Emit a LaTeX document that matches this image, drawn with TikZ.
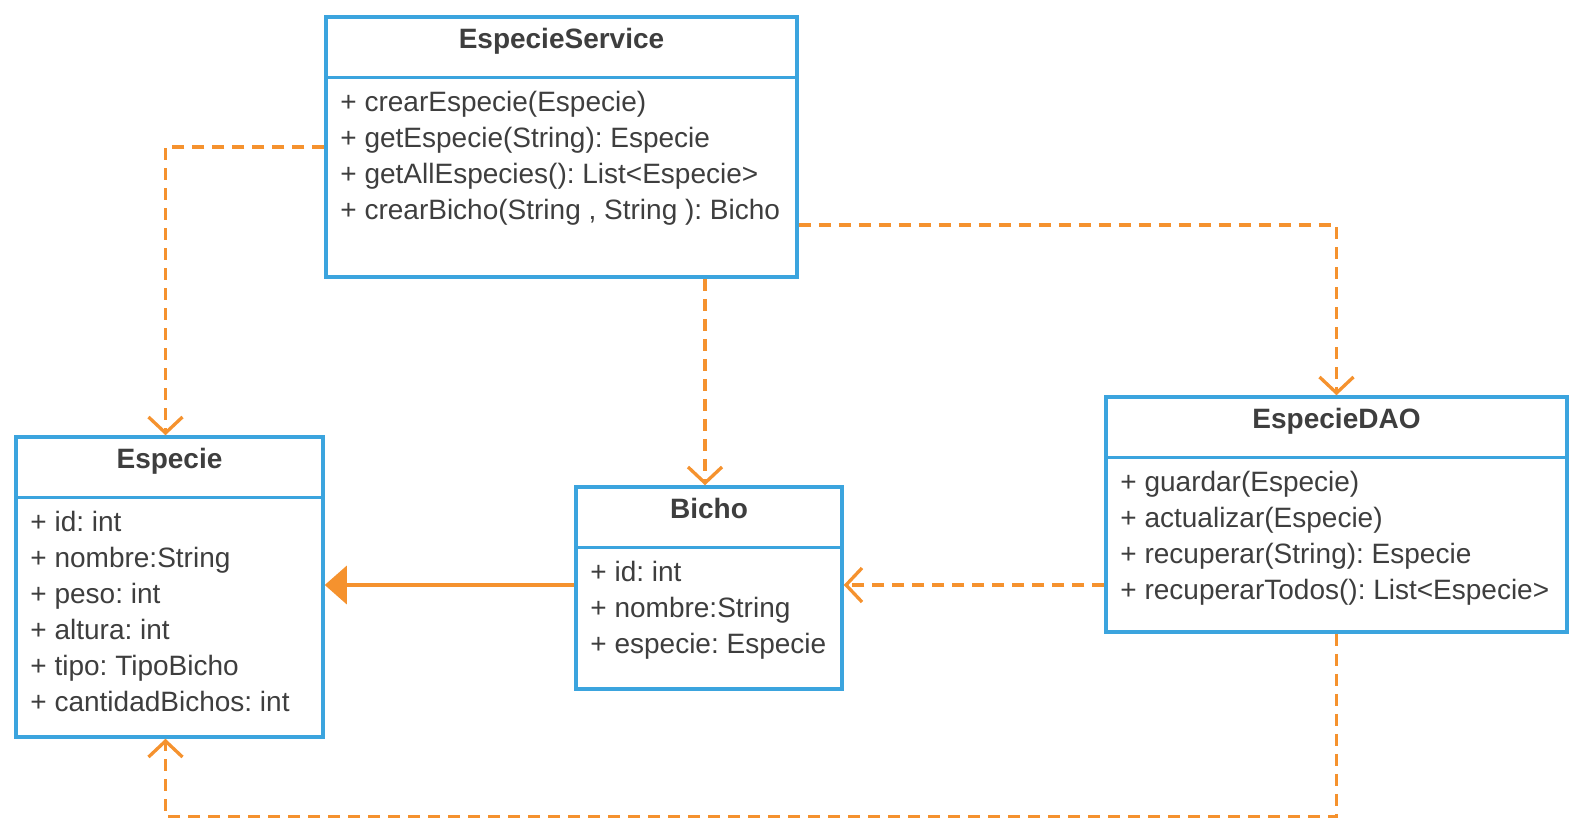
\documentclass[tikz,border=0pt]{standalone}
\usepackage{fontspec}
\setmainfont{Liberation Sans}
\usetikzlibrary{arrows.meta,calc}
\definecolor{cBorder}{RGB}{59,164,222}
\definecolor{cLink}{RGB}{245,146,46}
\definecolor{cText}{RGB}{62,62,62}
\tikzset{
  classbox/.style={draw=cBorder,line width=3.5pt,fill=white,inner sep=0pt},
  sepline/.style={cBorder,line width=3.5pt},
  classname/.style={font=\fontsize{28}{33}\selectfont\bfseries,text=cText,inner sep=0pt,anchor=base},
  member/.style={font=\fontsize{28}{33}\selectfont,text=cText,inner sep=0pt,anchor=base west},
  dep/.style={cLink,line width=3.3pt,dash pattern=on 12pt off 8pt,-{Straight Barb[length=16pt,width=34pt]}},
  assoc/.style={cLink,line width=3.3pt,-{Triangle[length=22pt,width=38pt]}},
}
\frenchspacing

\begin{document}
\begin{tikzpicture}[x=1pt,y=-1pt]
  \useasboundingbox (0,0) rectangle (1580,828);

  % class boxes
  \node[classbox,minimum width=471pt,minimum height=260pt] (service) at (561.5,147) {};
  \node[classbox,minimum width=307pt,minimum height=300pt] (especie) at (169.5,587) {};
  \node[classbox,minimum width=266pt,minimum height=202pt] (bicho) at (709,588) {};
  \node[classbox,minimum width=461pt,minimum height=235pt] (dao) at (1336.5,514.5) {};

  % separators and titles
  \foreach \cls/\title in {service/EspecieService,especie/Especie,bicho/Bicho,dao/EspecieDAO}{
    \draw[sepline] ([yshift=-62pt]\cls.north west) -- ([yshift=-62pt]\cls.north east);
    \node[classname] (\cls-title) at ([yshift=-33pt]\cls.north) {\title};
  }

  % members
  \foreach \txt [count=\i] in {+ crearEspecie(Especie),+ getEspecie(String): Especie,
      + getAllEspecies(): List<Especie>,{+ crearBicho(String , String ): Bicho}}
    \node[member] (service-\i) at ([xshift=16pt,yshift={-96pt-36pt*(\i-1)}]service.north west) {\txt};
  \foreach \txt [count=\i] in {+ id: int,+ nombre:String,+ peso: int,+ altura: int,
      + tipo: TipoBicho,+ cantidadBichos: int}
    \node[member] (especie-\i) at ([xshift=16pt,yshift={-96pt-36pt*(\i-1)}]especie.north west) {\txt};
  \foreach \txt [count=\i] in {+ id: int,+ nombre:String,+ especie: Especie}
    \node[member] (bicho-\i) at ([xshift=16pt,yshift={-96pt-36pt*(\i-1)}]bicho.north west) {\txt};
  \foreach \txt [count=\i] in {+ guardar(Especie),+ actualizar(Especie),
      + recuperar(String): Especie,+ recuperarTodos(): List<Especie>}
    \node[member] (dao-\i) at ([xshift=16pt,yshift={-96pt-36pt*(\i-1)}]dao.north west) {\txt};

  % connectors
  \coordinate (bichoIn) at ([yshift=3pt]bicho.east);
  \coordinate (bichoOut) at ([yshift=3pt]bicho.west);
  \draw[dep] (service.west) -| ([xshift=-4pt]especie.north);
  \draw[dep] ([xshift=-4pt]bicho.north |- service.south) -- ([xshift=-4pt]bicho.north);
  \draw[dep] ([yshift=-78pt]service.east) -| (dao.north);
  \draw[dep] (dao.west |- bichoIn) -- (bichoIn);
  \draw[dep] (dao.south) -- ([yshift=-183pt]dao.south) -| ([xshift=-4pt]especie.south);
  \draw[assoc] (bichoOut) -- (bichoOut -| especie.east);
\end{tikzpicture}
\end{document}
